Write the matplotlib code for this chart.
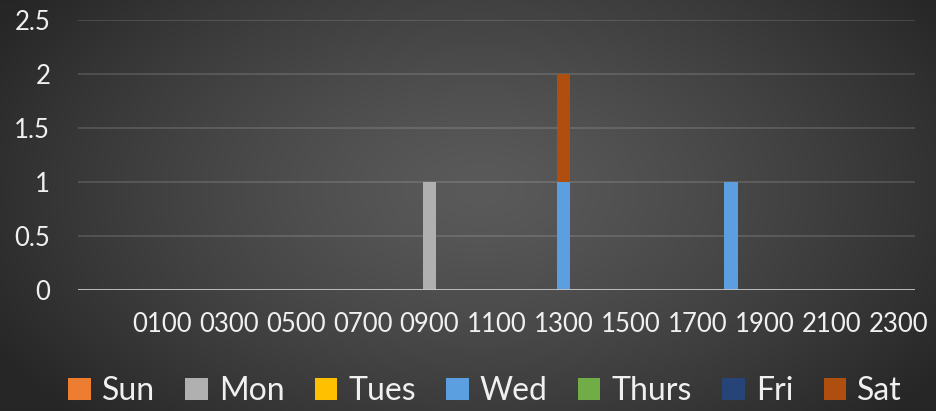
import matplotlib
matplotlib.use("Agg")
import matplotlib.pyplot as plt
import numpy as np

plt.rcParams["font.family"] = ["Lato", "DejaVu Sans"]

# first category is blank in the source sheet, then one slot per hour
HOURS = ["", "0000", "0100", "0200", "0300", "0400", "0500", "0600", "0700",
         "0800", "0900", "1000", "1100", "1200", "1300", "1400", "1500",
         "1600", "1700", "1800", "1900", "2000", "2100", "2200", "2300"]

DAYS = ["Sun", "Mon", "Tues", "Wed", "Thurs", "Fri", "Sat"]
DAY_COLORS = ["#ed7d31", "#b0b0b0", "#ffc000", "#5b9fe0", "#70ad47", "#264478", "#b04e10"]

#          ""  00 01 02 03 04 05 06 07 08 09 10 11 12 13 14 15 16 17 18 19 20 21 22 23
SUN =     [0,  0, 0, 0, 0, 0, 0, 0, 0, 0, 0, 0, 0, 0, 0, 0, 0, 0, 0, 0, 0, 0, 0, 0, 0]
MON =     [0,  0, 0, 0, 0, 0, 0, 0, 0, 0, 1, 0, 0, 0, 0, 0, 0, 0, 0, 0, 0, 0, 0, 0, 0]
TUES =    [0,  0, 0, 0, 0, 0, 0, 0, 0, 0, 0, 0, 0, 0, 0, 0, 0, 0, 0, 0, 0, 0, 0, 0, 0]
WED =     [0,  0, 0, 0, 0, 0, 0, 0, 0, 0, 0, 0, 0, 0, 1, 0, 0, 0, 0, 1, 0, 0, 0, 0, 0]
THURS =   [0,  0, 0, 0, 0, 0, 0, 0, 0, 0, 0, 0, 0, 0, 0, 0, 0, 0, 0, 0, 0, 0, 0, 0, 0]
FRI =     [0,  0, 0, 0, 0, 0, 0, 0, 0, 0, 0, 0, 0, 0, 0, 0, 0, 0, 0, 0, 0, 0, 0, 0, 0]
SAT =     [0,  0, 0, 0, 0, 0, 0, 0, 0, 0, 0, 0, 0, 0, 1, 0, 0, 0, 0, 0, 0, 0, 0, 0, 0]

Y_TICKS = [0, 0.5, 1, 1.5, 2, 2.5]
Y_LABELS = ["0", "0.5", "1", "1.5", "2", "2.5"]

TEXT_COLOR = "#f0f0f0"


def draw_background(fig):
    bg = fig.add_axes([0, 0, 1, 1], zorder=-10)
    bg.axis("off")
    h, w = 411, 936
    yy, xx = np.mgrid[0:h, 0:w]
    r = np.sqrt(((xx - 480) / 560.0) ** 2 + ((yy - 190) / 330.0) ** 2)
    r = np.clip(r, 0, 1)
    center, edge = 0x5a / 255.0, 0x26 / 255.0
    shade = center + (edge - center) * r ** 1.3
    img = np.dstack([shade, shade, shade])
    bg.imshow(img, extent=[0, 1, 0, 1], aspect="auto")
    bg.set_xlim(0, 1)
    bg.set_ylim(0, 1)


def main():
    fig = plt.figure(figsize=(9.36, 4.11), dpi=100)
    draw_background(fig)

    ax = fig.add_axes([78 / 936, 1 - 290 / 411, (915 - 78) / 936, 270 / 411])
    ax.patch.set_alpha(0)

    series = [SUN, MON, TUES, WED, THURS, FRI, SAT]
    x = np.arange(len(HOURS))
    bottom = np.zeros(len(HOURS))
    handles = []
    for day, vals, color in zip(DAYS, series, DAY_COLORS):
        vals = np.array(vals, dtype=float)
        bars = ax.bar(x, vals, 0.4, bottom=bottom, color=color, label=day, zorder=2)
        handles.append(bars)
        bottom += vals

    ax.set_xlim(-0.5, len(HOURS) - 0.5)
    ax.set_ylim(0, 2.5)
    ax.set_yticks(Y_TICKS)
    ax.set_yticklabels(Y_LABELS)
    ax.set_xticks(x[::2])
    ax.set_xticklabels(HOURS[::2])
    ax.tick_params(axis="x", length=0, pad=16, labelsize=18.5, colors=TEXT_COLOR)
    ax.tick_params(axis="y", length=0, pad=20, labelsize=18.5, colors=TEXT_COLOR)

    ax.yaxis.grid(True, color="white", alpha=0.13, linewidth=1.5, zorder=0)
    ax.set_axisbelow(True)
    ax.axhline(0, color="#c4c4c4", linewidth=2, zorder=3)
    for spine in ax.spines.values():
        spine.set_visible(False)

    fig.legend(
        handles=handles,
        loc="center",
        bbox_to_anchor=(485 / 936, 1 - 391 / 411),
        ncol=7,
        frameon=False,
        fontsize=23,
        handlelength=0.7,
        handleheight=0.7,
        handletextpad=0.35,
        columnspacing=0.95,
        labelcolor=TEXT_COLOR,
    )

    fig.savefig("out.png", dpi=100)
    plt.close(fig)


if __name__ == "__main__":
    main()
